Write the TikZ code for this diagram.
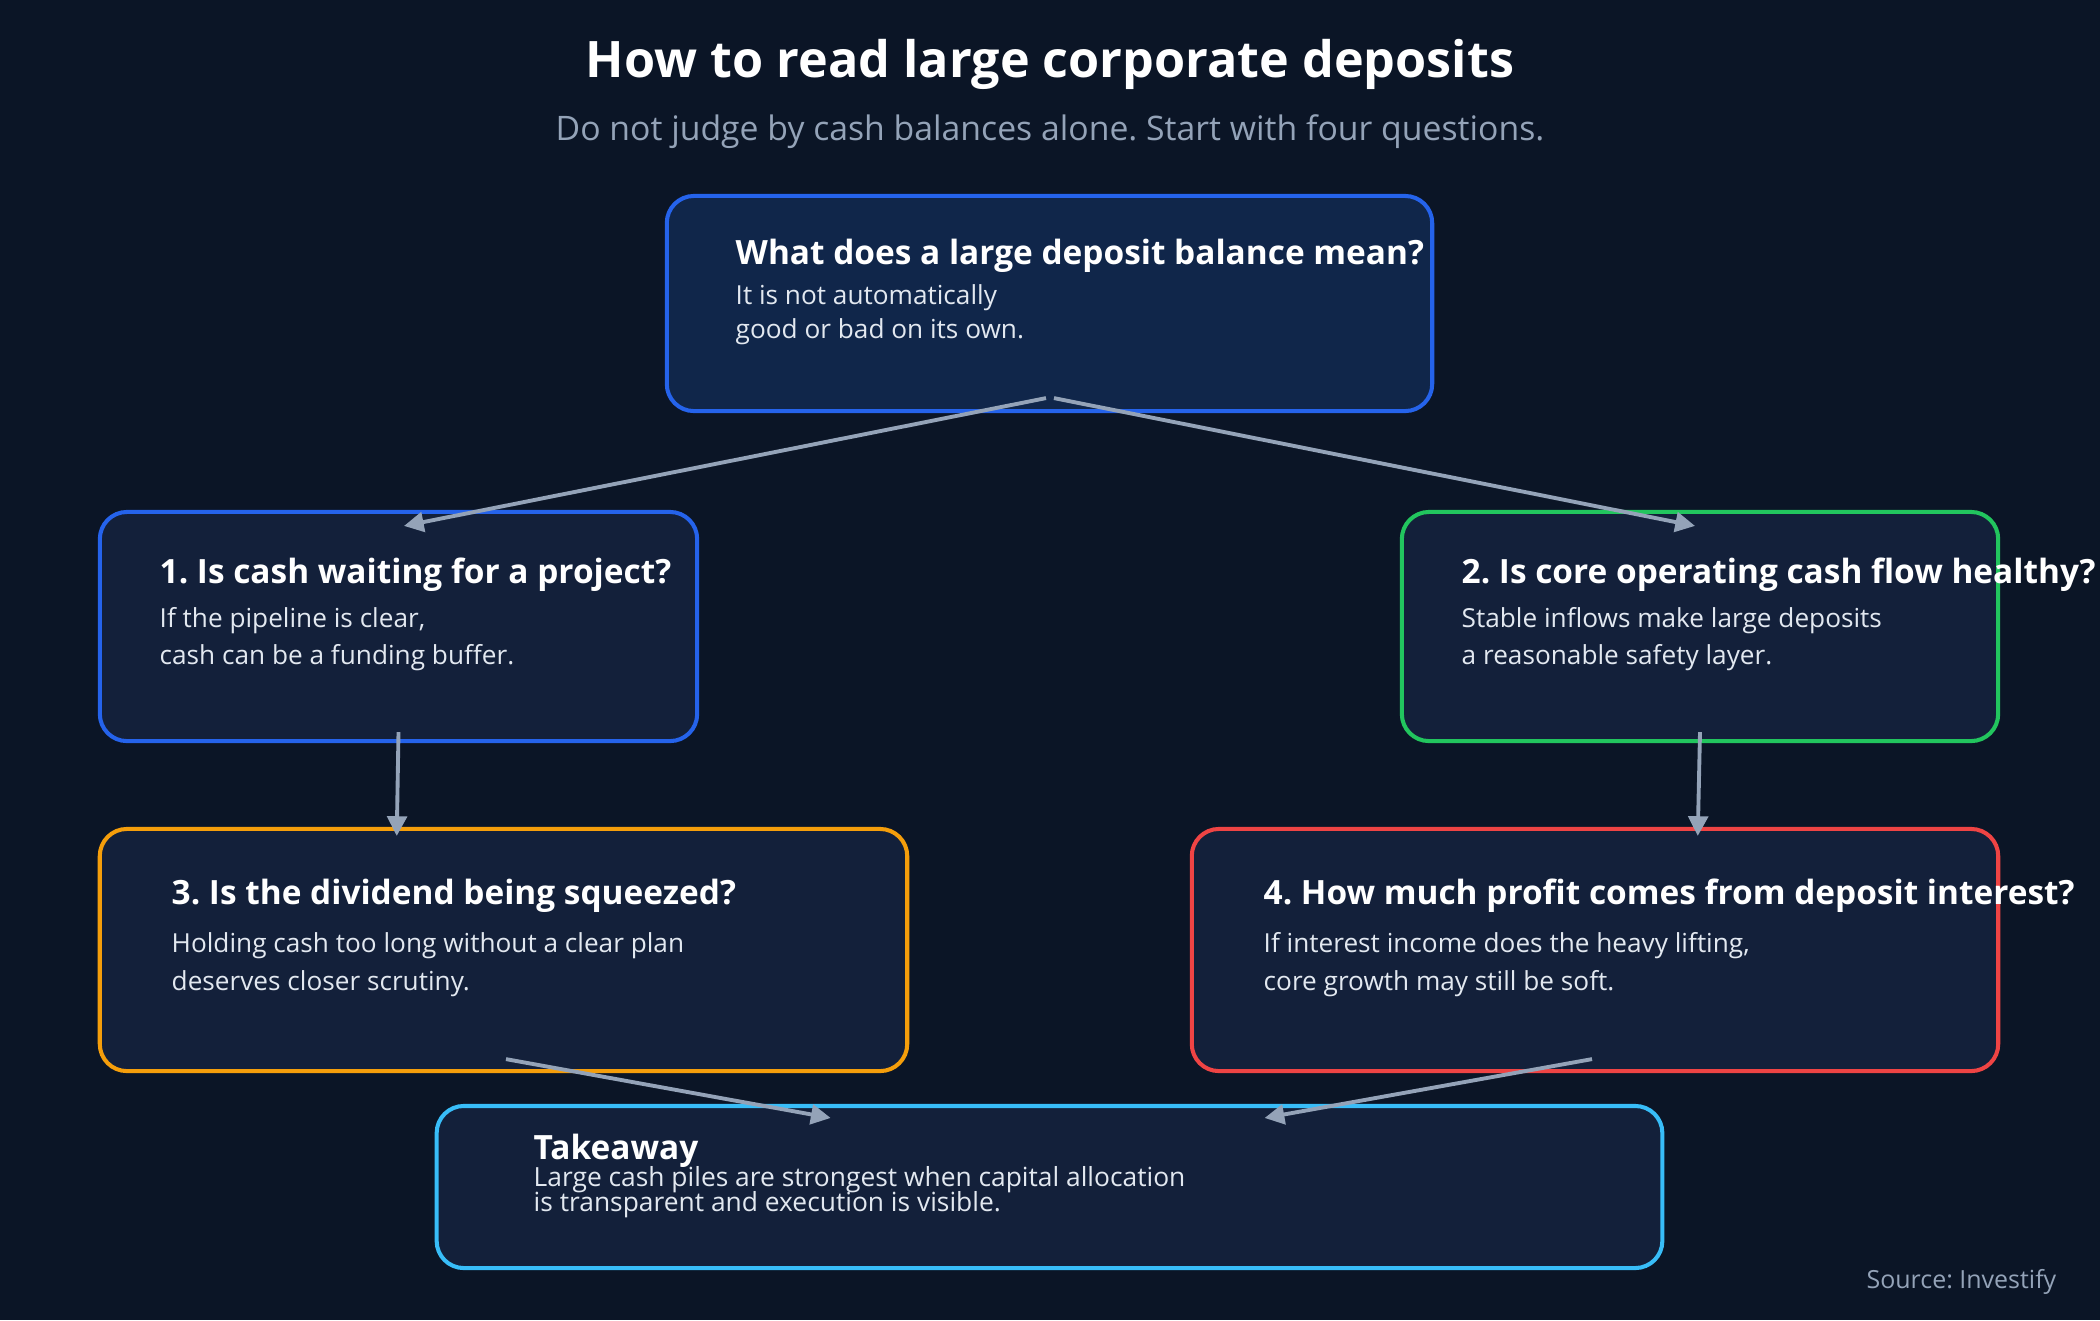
\documentclass[tikz,border=0pt]{standalone}
\usepackage{fontspec}
\setmainfont{Open Sans}
\usetikzlibrary{arrows.meta,calc}
\definecolor{bgnavy}{HTML}{0B1526}
\definecolor{boxfill}{HTML}{13203A}
\definecolor{topfill}{HTML}{10264A}
\definecolor{linkgray}{HTML}{94A3B8}
\definecolor{bodytxt}{HTML}{E2E8F0}
\definecolor{qblue}{HTML}{2563EB}
\definecolor{qgreen}{HTML}{22C55E}
\definecolor{qorange}{HTML}{F59E0B}
\definecolor{qred}{HTML}{EF4444}
\definecolor{qsky}{HTML}{38BDF8}
\frenchspacing
\newcommand{\tightlines}{\lineskiplimit-5pt\relax}
\tikzset{
  card/.style={draw=#1,line width=1.15pt,rounded corners=7.7pt,fill=boxfill,inner sep=0pt},
  head/.style={anchor=base west,inner sep=0pt,text=white,font=\fontsize{9.5}{11}\selectfont\bfseries},
  body/.style={anchor=base west,inner sep=0pt,text=bodytxt,align=left,font=\fontsize{7.45}{10.3}\selectfont},
  link/.style={-{Triangle[length=5.6pt,width=5.6pt]},line width=1.1pt,draw=linkgray}
}
\begin{document}
\begin{tikzpicture}[x=0.01cm,y=-0.01cm]
\fill[bgnavy] (0,0) rectangle (2100,1320);
\useasboundingbox (0,0) rectangle (2100,1320);
\node[anchor=base,inner sep=0pt,text=white,font=\fontsize{14.3}{16}\selectfont\bfseries] (title) at (1050,77) {How to read large corporate deposits};
\node[anchor=base,inner sep=0pt,text=linkgray,font=\fontsize{9.6}{11}\selectfont] (subtitle) at (1050,140) {Do not judge by cash balances alone. Start with four questions.};
\node[card=qblue,fill=topfill,minimum width=7.65cm,minimum height=2.15cm] (top) at (1049.5,303.5) {};
\node[head] (tophead) at (735,264) {What does a large deposit balance mean?};
\node[body,font=\fontsize{7.45}{9.5}\selectfont] (topbody) at (735,338) {It is not automatically\\good or bad on its own.};
\node[card=qblue,minimum width=5.97cm,minimum height=2.29cm] (q1) at (398.5,626.5) {};
\node[head] (q1head) at (159,583) {1. Is cash waiting for a project?};
\node[body] (q1body) at (159,664) {If the pipeline is clear,\\cash can be a funding buffer.};
\node[card=qgreen,minimum width=5.96cm,minimum height=2.29cm] (q2) at (1700,626.5) {};
\node[head] (q2head) at (1461,583) {2. Is core operating cash flow healthy?};
\node[body] (q2body) at (1461,664) {Stable inflows make large deposits\\a reasonable safety layer.};
\node[card=qorange,minimum width=8.07cm,minimum height=2.42cm] (q3) at (503.5,950) {};
\node[head] (q3head) at (171,904) {3. Is the dividend being squeezed?};
\node[body,font=\fontsize{7.45}{10.6}\selectfont] (q3body) at (171,990) {Holding cash too long without a clear plan\\deserves closer scrutiny.};
\node[card=qred,minimum width=8.06cm,minimum height=2.42cm] (q4) at (1595,950) {};
\node[head] (q4head) at (1263,904) {4. How much profit comes from deposit interest?};
\node[body,font=\fontsize{7.45}{10.6}\selectfont] (q4body) at (1263,990) {If interest income does the heavy lifting,\\core growth may still be soft.};
\node[card=qsky,minimum width=12.25cm,minimum height=1.62cm] (take) at (1049.5,1187) {};
\node[head] (takehead) at (533,1159) {Takeaway};
\node[body,font=\fontsize{7.5}{6.85}\selectfont\tightlines] (takebody) at (533,1211) {Large cash piles are strongest when capital allocation\\is transparent and execution is visible.};
\node[anchor=base east,inner sep=0pt,text=linkgray,font=\fontsize{7.1}{8}\selectfont] (source) at (2057,1288) {Source: Investify};

\draw[link] ($(top.south)+(-3.5,-15)$) -- ($(q1.north)+(5.5,16)$); \draw[link] ($(top.south)+(4.5,-15)$) -- ($(q2.north)+(-5,16)$); \draw[link] ($(q1.south)+(0,-11)$) -- ($(q3.north west)+(299,9)$); \draw[link] ($(q2.south)+(0,-11)$) -- ($(q4.north west)+(508,9)$); \draw[link] ($(q3.south)+(2.5,-14)$) -- ($(take.north west)+(396,14)$); \draw[link] ($(q4.south)+(-3,-14)$) -- ($(take.north west)+(830,14)$);
\end{tikzpicture}
\end{document}
